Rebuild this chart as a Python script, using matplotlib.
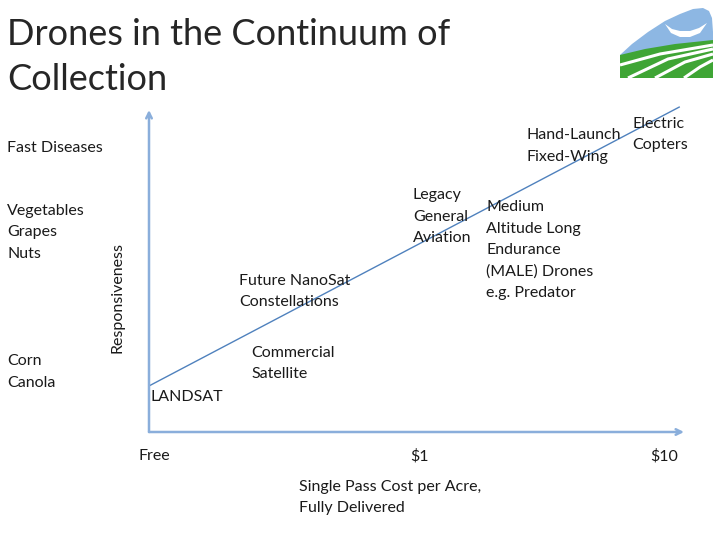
import matplotlib
matplotlib.use("Agg")
import matplotlib.pyplot as plt
from matplotlib.patches import Polygon

plt.rcParams['font.family'] = ['Lato', 'DejaVu Sans']

# --- data (cost axis 0..10, responsiveness 0..10) ---
cost_ticks = [0.09, 5.05, 9.63]
cost_labels = ['Free', '$1', '$10']

trend_x = [0.0, 9.91]
trend_y = [1.43, 10.09]

# collection platforms: label, cost position (left edge), responsiveness (centre)
platform_names = ['LANDSAT', 'Commercial\nSatellite', 'Future NanoSat\nConstellations',
                  'Legacy\nGeneral\nAviation',
                  'Medium\nAltitude Long\nEndurance\n(MALE) Drones\ne.g. Predator',
                  'Hand-Launch\nFixed-Wing', 'Electric\nCopters']
platform_x = [0.02, 1.91, 1.68, 4.93, 6.30, 7.05, 9.04]
platform_y = [1.09, 2.13, 4.36, 6.69, 5.65, 8.88, 9.24]

# crops needing a given responsiveness
crop_names = ['Fast Diseases', 'Vegetables\nGrapes\nNuts', 'Corn\nCanola']
crop_y = [8.82, 6.20, 1.86]

axis_color = '#8aaedb'
line_color = '#4f81bd'
text_color = '#1a1a1a'
fs = 11.5
ls = 1.66

fig = plt.figure(figsize=(7.15, 5.36), dpi=100)
ax = fig.add_axes([149 / 715, 1 - 432 / 536, 535 / 715, 322 / 536])
ax.set_xlim(0, 10)
ax.set_ylim(0, 10)
for s in ax.spines.values():
    s.set_visible(False)
ax.set_yticks([])
ax.set_xticks(cost_ticks, cost_labels, fontsize=fs, color=text_color)
ax.tick_params(axis='x', length=0, pad=12.5)

# axes arrows
ax.annotate('', xy=(10, 0), xytext=(0, 0),
            arrowprops=dict(arrowstyle='->', color=axis_color, lw=1.8, shrinkA=0, shrinkB=0))
ax.annotate('', xy=(0, 10), xytext=(0, 0),
            arrowprops=dict(arrowstyle='->', color=axis_color, lw=1.8, shrinkA=0, shrinkB=0))

# trend line
ax.plot(trend_x, trend_y, color=line_color, lw=1.0, clip_on=False)

for name, x, y in zip(platform_names, platform_x, platform_y):
    ax.text(x, y, name, fontsize=fs, color=text_color, ha='left', va='center',
            linespacing=ls)

for name, y in zip(crop_names, crop_y):
    ax.text(-2.65, y, name, fontsize=fs, color=text_color, ha='left', va='center',
            linespacing=ls, clip_on=False)

ax.text(-0.58, 4.18, 'Responsiveness', rotation=90, fontsize=fs, color=text_color,
        ha='center', va='center')
ax.text(2.80, -2.03, 'Single Pass Cost per Acre,\nFully Delivered', fontsize=fs,
        color=text_color, ha='left', va='center', linespacing=ls)

fig.text(7 / 715, 1 - 57 / 536, 'Drones in the Continuum of\nCollection', fontsize=26,
         color='#262626', ha='left', va='center', linespacing=1.45)

# logo (pixel coords inside its own small axes)
lg = fig.add_axes([618 / 715, 1 - 80 / 536, 97 / 715, 78 / 536])
lg.set_xlim(618, 715)
lg.set_ylim(80, 2)
lg.axis('off')
sky = [(620, 55), (632, 44), (648, 32), (665, 21), (680, 14), (693, 9), (703, 8),
       (709, 11), (712, 18), (713, 32), (713, 54)]
lg.add_patch(Polygon(sky, closed=True, color='#8db7e3', lw=0))
field = [(620, 55), (645, 49), (675, 44), (713, 40), (713, 78), (620, 78)]
lg.add_patch(Polygon(field, closed=True, color='#3fa535', lw=0))
smile = [(665, 24), (672, 29), (680, 31), (690, 31), (699, 28), (707, 23),
         (700, 33), (690, 37), (680, 37), (671, 33)]
lg.add_patch(Polygon(smile, closed=True, color='white', lw=0))
stripes = [[(620, 65), (660, 54), (713, 45)],
           [(628, 78), (668, 59), (713, 49)],
           [(655, 78), (685, 62), (713, 54)],
           [(684, 78), (700, 67), (713, 60)]]
for st in stripes:
    xs, ys = zip(*st)
    lg.plot(xs, ys, color='white', lw=2.2, solid_capstyle='butt')

fig.savefig('out.png', dpi=100)
